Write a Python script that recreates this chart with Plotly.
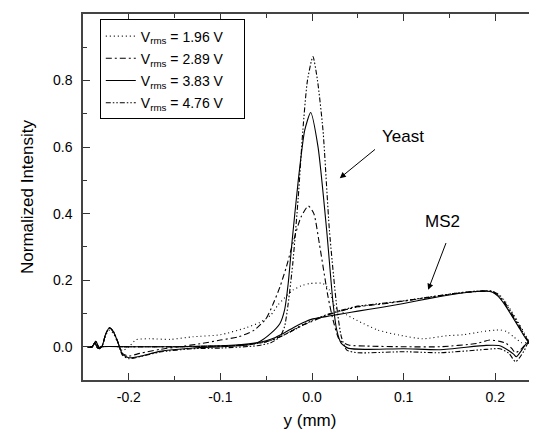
import plotly.graph_objects as go

# ---------------- data ----------------
pad = "\u00a0" * 4
labels = ["V<sub>rms</sub> = 1.96 V" + pad, "V<sub>rms</sub> = 2.89 V" + pad,
          "V<sub>rms</sub> = 3.83 V" + pad, "V<sub>rms</sub> = 4.76 V" + pad]

# Yeast profiles
yeast_x_196 = [-0.245, -0.240, -0.236, -0.232, -0.229, -0.225, -0.221, -0.217, -0.212, -0.207,
               -0.200, -0.192, -0.177, -0.155, -0.130, -0.100, -0.072, -0.057, -0.045, -0.037,
               -0.021, -0.010, -0.0025, 0.012, 0.019, 0.025, 0.0376, 0.0485, 0.072, 0.095,
               0.121, 0.147, 0.165, 0.185, 0.200, 0.206, 0.2125, 0.220, 0.229, 0.236, 0.240, 0.244]
yeast_y_196 = [0.0, 0.0, 0.016, -0.006, 0.003, 0.035, 0.05, 0.04, 0.012, -0.012,
               0.0, 0.021, 0.024, 0.022, 0.03, 0.036, 0.057, 0.073, 0.095, 0.126,
               0.17, 0.185, 0.19, 0.19, 0.17, 0.12, 0.096, 0.08, 0.05, 0.035,
               0.024, 0.033, 0.036, 0.045, 0.05, 0.05, 0.046, 0.03, 0.012, 0.012, 0.005, 0.0]

yeast_x_289 = [-0.245, -0.240, -0.236, -0.232, -0.229, -0.225, -0.221, -0.217, -0.212, -0.207,
               -0.200, -0.188, -0.166, -0.145, -0.120, -0.100, -0.080, -0.063, -0.050, -0.043,
               -0.035, -0.028, -0.020, -0.012, -0.004, 0.002, 0.008, 0.0175, 0.023,
               0.030, 0.040, 0.060, 0.100, 0.140, 0.180, 0.194, 0.205, 0.212, 0.218, 0.222,
               0.228, 0.235, 0.240, 0.244]
yeast_y_289 = [0.0, 0.0, 0.016, -0.006, 0.003, 0.04, 0.056, 0.045, 0.014, -0.02,
               -0.028, -0.02, -0.008, 0.0, 0.01, 0.02, 0.03, 0.05, 0.085, 0.125,
               0.18, 0.24, 0.32, 0.39, 0.423, 0.40, 0.31, 0.15, 0.08,
               0.02, 0.005, 0.002, 0.0, 0.0, 0.01, 0.02, 0.016, 0.01, -0.005, -0.018,
               -0.008, 0.012, 0.005, 0.0]

yeast_x_383 = [-0.245, -0.240, -0.236, -0.232, -0.229, -0.225, -0.221, -0.217, -0.212, -0.207,
               -0.200, -0.188, -0.166, -0.130, -0.100, -0.070, -0.057, -0.045, -0.035, -0.030,
               -0.026, -0.022, -0.015, -0.008, -0.0015, 0.0066, 0.016, 0.023, 0.027,
               0.032, 0.040, 0.060, 0.100, 0.140, 0.190, 0.205, 0.215, 0.220, 0.223, 0.229,
               0.235, 0.240, 0.244]
yeast_y_383 = [0.0, 0.0, 0.016, -0.006, 0.003, 0.04, 0.057, 0.046, 0.014, -0.022,
               -0.033, -0.029, -0.014, -0.004, 0.0, 0.005, 0.016, 0.04, 0.07, 0.11,
               0.19, 0.31, 0.50, 0.65, 0.704, 0.60, 0.35, 0.13, 0.05,
               0.01, -0.005, -0.008, -0.006, -0.009, 0.004, 0.003, -0.012, -0.022, -0.03, -0.01,
               0.012, 0.005, 0.0]

yeast_x_476 = [-0.245, -0.240, -0.236, -0.232, -0.229, -0.225, -0.221, -0.217, -0.212, -0.207,
               -0.200, -0.188, -0.166, -0.130, -0.100, -0.060, -0.045, -0.035, -0.030, -0.026,
               -0.021, -0.015, -0.010, -0.005, 0.001, 0.006, 0.012, 0.019, 0.027, 0.032,
               0.038, 0.050, 0.100, 0.140, 0.190, 0.205, 0.215, 0.222, 0.226, 0.232, 0.236,
               0.240, 0.244]
yeast_y_476 = [0.0, 0.0, 0.016, -0.006, 0.003, 0.04, 0.057, 0.047, 0.015, -0.025,
               -0.036, -0.03, -0.016, -0.006, -0.004, 0.003, 0.012, 0.03, 0.06, 0.13,
               0.25, 0.45, 0.65, 0.80, 0.872, 0.80, 0.65, 0.35, 0.12, 0.03,
               -0.01, -0.018, -0.015, -0.018, -0.008, -0.006, -0.02, -0.045, -0.035, -0.01, 0.012,
               0.005, 0.0]

# MS2 profiles (shared positions)
ms2_x = [-0.245, -0.240, -0.237, -0.234, -0.230, -0.200, -0.150, -0.100, -0.080, -0.060,
         -0.050, -0.040, -0.030, -0.020, -0.010, 0.000, 0.010, 0.020, 0.035, 0.050,
         0.075, 0.100, 0.130, 0.160, 0.180, 0.190, 0.197, 0.203, 0.210, 0.217,
         0.225, 0.232, 0.237, 0.241, 0.244]
ms2_y_196 = [0.0, 0.0, 0.012, -0.004, 0.0, 0.0, 0.0, 0.002, 0.004, 0.010,
             0.015, 0.024, 0.037, 0.052, 0.067, 0.080, 0.090, 0.099, 0.110, 0.120,
             0.129, 0.138, 0.150, 0.162, 0.167, 0.169, 0.167, 0.160, 0.140, 0.110,
             0.075, 0.040, 0.016, 0.006, 0.0]
ms2_y_289 = [0.0, 0.0, 0.012, -0.004, 0.0, 0.0, 0.0, 0.002, 0.004, 0.010,
             0.015, 0.024, 0.036, 0.051, 0.065, 0.076, 0.088, 0.098, 0.110, 0.120,
             0.128, 0.137, 0.149, 0.161, 0.166, 0.167, 0.165, 0.155, 0.132, 0.100,
             0.066, 0.032, 0.013, 0.005, 0.0]
ms2_y_383 = [0.0, 0.0, 0.012, -0.004, 0.0, 0.0, 0.0, 0.003, 0.006, 0.012,
             0.018, 0.028, 0.042, 0.058, 0.072, 0.083, 0.088, 0.093, 0.100, 0.107,
             0.118, 0.130, 0.146, 0.160, 0.166, 0.167, 0.164, 0.152, 0.128, 0.098,
             0.062, 0.030, 0.012, 0.005, 0.0]
ms2_y_476 = [0.0, 0.0, 0.012, -0.004, 0.0, 0.0, 0.0, 0.002, 0.004, 0.010,
             0.015, 0.024, 0.036, 0.050, 0.065, 0.078, 0.090, 0.100, 0.112, 0.122,
             0.130, 0.138, 0.150, 0.162, 0.167, 0.168, 0.166, 0.158, 0.135, 0.105,
             0.070, 0.035, 0.014, 0.005, 0.0]

x_ticks = [-0.2, -0.1, 0.0, 0.1, 0.2]
x_tick_labels = ["-0.2", "-0.1", "0.0", "0.1", "0.2"]
x_minor = [-0.25, -0.15, -0.05, 0.05, 0.15]
y_ticks = [0.0, 0.2, 0.4, 0.6, 0.8, 1.0]
y_tick_labels = ["0.0", "0.2", "0.4", "0.6", "0.8", "1.0"]
y_minor = [0.1, 0.3, 0.5, 0.7, 0.9]

# ---------------- figure ----------------
dashes = ["1px,3px", "6px,3px,2px,3px", "solid", "5px,2px,1.5px,2px,1.5px,2px"]
yeast = [(yeast_x_196, yeast_y_196), (yeast_x_289, yeast_y_289),
         (yeast_x_383, yeast_y_383), (yeast_x_476, yeast_y_476)]
ms2 = [ms2_y_196, ms2_y_289, ms2_y_383, ms2_y_476]

fig = go.Figure()
for i in range(4):
    line = dict(color="black", width=1.1, dash=dashes[i], shape="spline", smoothing=0.6)
    fig.add_trace(go.Scatter(x=yeast[i][0], y=yeast[i][1], mode="lines", line=line,
                             name=labels[i], legendgroup=str(i), showlegend=True))
    fig.add_trace(go.Scatter(x=ms2_x, y=ms2[i], mode="lines", line=line,
                             name=labels[i], legendgroup=str(i), showlegend=False))

font = "Liberation Sans, Arial, sans-serif"
axis_common = dict(showline=True, linecolor="#444", linewidth=1.5, ticks="inside",
                   ticklen=7, tickwidth=1.3, tickcolor="#333", showgrid=False,
                   zeroline=False, automargin=False,
                   tickfont=dict(family=font, size=14, color="black"),
                   title_font=dict(family=font, size=17, color="black"))

# the page body adds an 8 px offset, so the figure is sized to compensate
fig.update_layout(
    width=529, height=426,
    margin=dict(l=75, r=0, t=6, b=54),
    paper_bgcolor="white", plot_bgcolor="white",
    font=dict(family=font, color="black"),
    xaxis=dict(range=[-0.25, 0.2456], tickmode="array", tickvals=x_ticks,
               ticktext=x_tick_labels, mirror="ticks", ticklabelstandoff=3,
               minor=dict(tickvals=x_minor, ticks="inside", ticklen=4, tickcolor="#333"),
               title=dict(text="y (mm)", standoff=11), **axis_common),
    yaxis=dict(range=[-0.1, 1.0], tickmode="array", tickvals=y_ticks,
               ticktext=y_tick_labels, mirror=False, ticklabelstandoff=6,
               minor=dict(tickvals=y_minor, ticks="inside", ticklen=4, tickcolor="#333"),
               title=dict(text="Normalized Intensity", standoff=15), **axis_common),
    legend=dict(x=0.037, y=0.985, xanchor="left", yanchor="top",
                bordercolor="black", borderwidth=1, bgcolor="white",
                font=dict(family=font, size=14, color="black"),
                tracegroupgap=1, itemwidth=30),
    showlegend=True,
)

fig.add_annotation(x=0.0303, y=0.5066, ax=0.0704, ay=0.5967, xref="x", yref="y",
                   axref="x", ayref="y", text="", showarrow=True, arrowhead=2,
                   arrowsize=1.2, arrowwidth=1, arrowcolor="black")
fig.add_annotation(x=0.0991, y=0.6306, text="Yeast", showarrow=False,
                   font=dict(family=font, size=17, color="black"))
fig.add_annotation(x=0.1268, y=0.1712, ax=0.1469, ay=0.3162, xref="x", yref="y",
                   axref="x", ayref="y", text="", showarrow=True, arrowhead=2,
                   arrowsize=1.2, arrowwidth=1, arrowcolor="black")
fig.add_annotation(x=0.1428, y=0.3763, text="MS2", showarrow=False,
                   font=dict(family=font, size=17, color="black"))

fig.write_html("out.html")
